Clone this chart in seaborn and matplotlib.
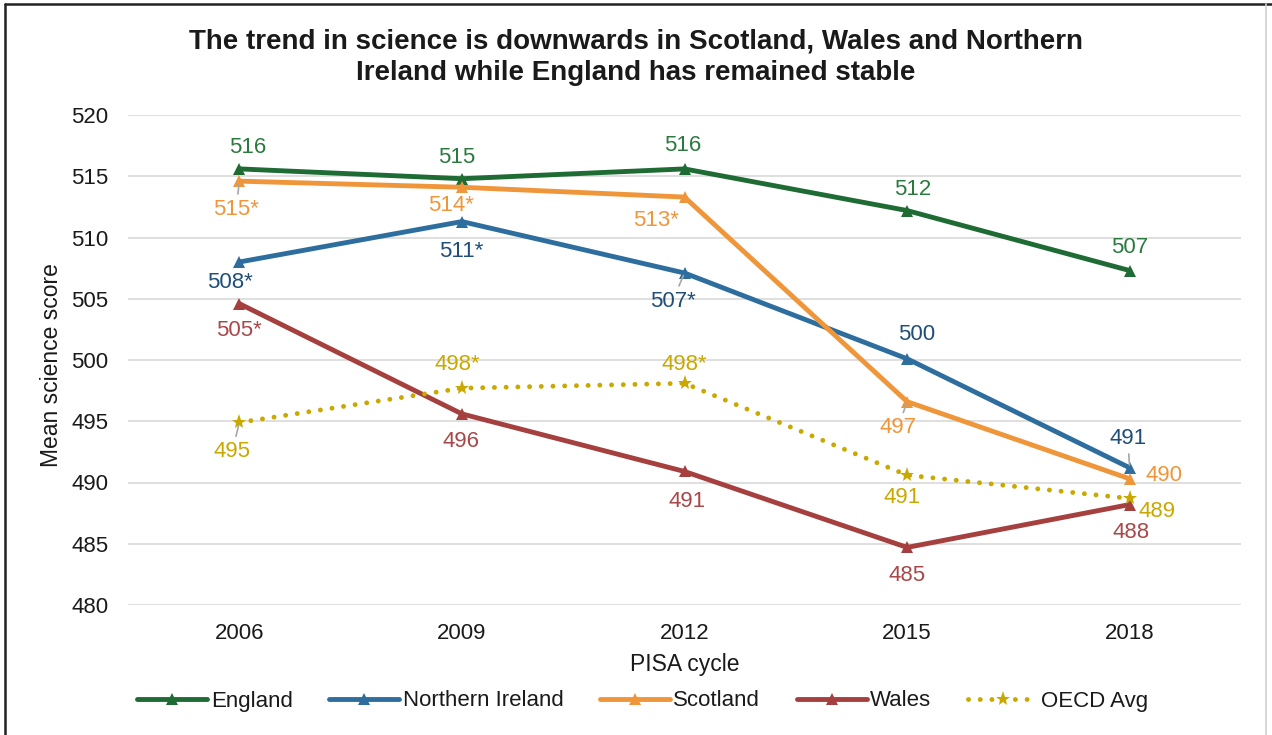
import matplotlib
matplotlib.use("Agg")
import matplotlib.pyplot as plt
from matplotlib.lines import Line2D
import seaborn as sns
import pandas as pd

# PISA science mean scores by cycle
cycles = ["2006", "2009", "2012", "2015", "2018"]
england = [515.6, 514.8, 515.6, 512.2, 507.3]
northern_ireland = [508.0, 511.3, 507.1, 500.1, 491.2]
scotland = [514.6, 514.1, 513.3, 496.6, 490.3]
wales = [504.6, 495.6, 490.9, 484.7, 488.2]
oecd_avg = [494.9, 497.7, 498.1, 490.6, 488.7]

# significant difference from 2018 (asterisk)
england_sig = [False, False, False, False, False]
northern_ireland_sig = [True, True, True, False, False]
scotland_sig = [True, True, True, False, False]
wales_sig = [True, False, False, False, False]
oecd_sig = [False, True, True, False, False]

series_names = ["England", "Northern Ireland", "Scotland", "Wales", "OECD Avg"]
series_values = [england, northern_ireland, scotland, wales, oecd_avg]
series_sig = [england_sig, northern_ireland_sig, scotland_sig, wales_sig, oecd_sig]

line_colors = {"England": "#1F6B34", "Northern Ireland": "#2E6E9E",
               "Scotland": "#F0963A", "Wales": "#A5403F", "OECD Avg": "#C9A800"}
label_colors = {"England": "#2A7A3E", "Northern Ireland": "#1F4E79",
                "Scotland": "#F0963A", "Wales": "#A8484A", "OECD Avg": "#C9A800"}

# label offsets in pixels (dx, dy; dy positive = up)
label_offsets = {
    "England": [(8, 21), (-5, 21), (-2, 23), (6, 21), (0, 23)],
    "Northern Ireland": [(-9, -21), (-1, -30), (-12, -28), (10, 24), (-2, 29)],
    "Scotland": [(-3, -28), (-11, -18), (-29, -23), (-9, -26), (34, 3)],
    "Wales": [(0, -27), (-1, -28), (3, -30), (0, -28), (1, -28)],
    "OECD Avg": [(-7, -29), (-5, 24), (0, 19), (-5, -22), (27, -13)],
}
# labels joined to their point by a short leader line
leaders = {("Scotland", 0), ("OECD Avg", 0), ("Northern Ireland", 2),
           ("Scotland", 3), ("Northern Ireland", 4)}

sns.set_theme(style="white")
plt.rcParams["font.family"] = ["Liberation Sans", "DejaVu Sans"]

fig = plt.figure(figsize=(12.72, 7.35), dpi=100)
ax = fig.add_axes([128 / 1272, 1 - 605 / 735, (1241 - 128) / 1272, (605 - 115) / 735])

x_pos = list(range(len(cycles)))
for name, vals in zip(series_names, series_values):
    df = pd.DataFrame({"cycle": x_pos, "score": vals})
    if name == "OECD Avg":
        sns.lineplot(data=df, x="cycle", y="score", ax=ax, color=line_colors[name],
                     lw=3.5, linestyle=(0, (0.01, 2.4)), dash_capstyle="round",
                     marker="*", markersize=11, markeredgewidth=0,
                     label=name, zorder=4)
    else:
        sns.lineplot(data=df, x="cycle", y="score", ax=ax, color=line_colors[name],
                     lw=3.5, solid_capstyle="round", marker="^", markersize=9,
                     markeredgewidth=0, label=name, zorder=3)

for name, vals, sig in zip(series_names, series_values, series_sig):
    for i, (v, s) in enumerate(zip(vals, sig)):
        txt = f"{round(v)}" + ("*" if s else "")
        dx, dy = label_offsets[name][i]
        kw = {}
        if (name, i) in leaders:
            kw["arrowprops"] = dict(arrowstyle="-", color="#A6A6A6", lw=1.2,
                                    shrinkA=1, shrinkB=2)
        ax.annotate(txt, xy=(i, v), xytext=(dx, dy), textcoords="offset pixels",
                    ha="center", va="center", fontsize=16,
                    color=label_colors[name], zorder=6, **kw)

ax.set_xlim(-0.5, 4.5)
ax.set_ylim(480, 520)
ax.set_yticks(range(480, 521, 5))
ax.set_xticks(x_pos)
ax.set_xticklabels(cycles)
ax.grid(axis="y", color="#D9D9D9", lw=1.2)
ax.grid(axis="x", visible=False)
for sp in ax.spines.values():
    sp.set_visible(False)
ax.tick_params(axis="both", length=0, labelsize=16, colors="#1A1A1A")
ax.tick_params(axis="y", pad=14)
ax.tick_params(axis="x", pad=13)

ax.set_ylabel("Mean science score", fontsize=16.5, color="#1A1A1A")
ax.yaxis.label.set_va("center")
ax.yaxis.set_label_coords(-(128 - 52) / 1113, 0.49)
ax.set_xlabel("PISA cycle", fontsize=16.5, color="#1A1A1A")
ax.xaxis.label.set_va("center")
ax.xaxis.set_label_coords(0.5, -(665 - 605) / 490)

ax.get_legend().remove()
handles, labels = ax.get_legend_handles_labels()
fig.legend(handles, labels, loc="center", bbox_to_anchor=(643 / 1272, 1 - 701 / 735),
           ncol=5, frameon=False, fontsize=16, handlelength=3.15, handletextpad=0.15,
           columnspacing=1.65, numpoints=1, labelcolor="#1A1A1A")

fig.text(0.5, 1 - 57 / 735,
         "The trend in science is downwards in Scotland, Wales and Northern\n"
         "Ireland while England has remained stable",
         ha="center", va="center", fontsize=20, fontweight="bold",
         color="#1A1A1A", linespacing=1.25)

# chart frame
fig.add_artist(Line2D([5 / 1272, 5 / 1272], [0, 1 - 4 / 735], transform=fig.transFigure,
                      color="#222222", lw=1.8))
fig.add_artist(Line2D([5 / 1272, 1], [1 - 4 / 735, 1 - 4 / 735], transform=fig.transFigure,
                      color="#222222", lw=1.8))
fig.add_artist(Line2D([1266 / 1272, 1266 / 1272], [0, 1 - 4 / 735], transform=fig.transFigure,
                      color="#D0D0D0", lw=1.2))

fig.savefig("out.png", dpi=100)
